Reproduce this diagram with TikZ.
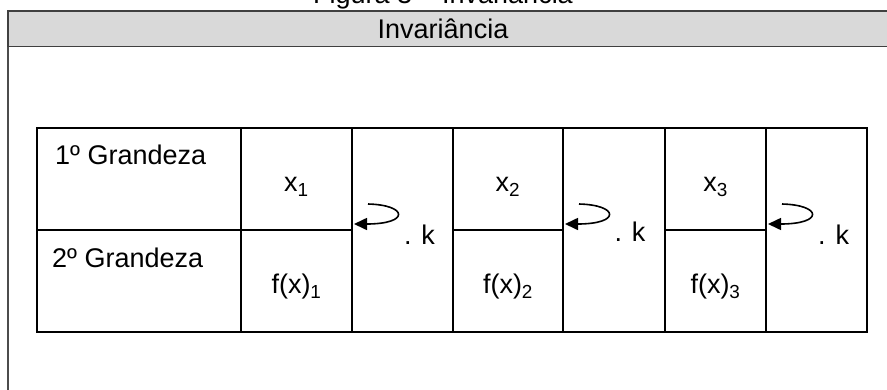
\documentclass[tikz,border=0pt]{standalone}
\usepackage{fontspec}
\setmainfont{Liberation Sans}
\usepackage{xcolor}
\usepackage{tikz}
\usetikzlibrary{arrows.meta, positioning}

\definecolor{headgray}{RGB}{217,217,217}

\begin{document}
\begin{tikzpicture}[
    x=1pt, y=-1pt,
    cell/.style={draw, line width=1.5pt, inner sep=0pt, outer sep=0pt, minimum height=102pt},
    kcell/.style={draw, line width=1.5pt, inner sep=0pt, outer sep=0pt, minimum width=101pt, minimum height=204pt},
    lbl/.style={inner sep=0pt, font=\fontsize{27}{32}\selectfont},
    turnarrow/.style={line width=1.6pt, -{Triangle[length=13pt,width=12pt]}}
  ]
    \useasboundingbox (0,0) rectangle (887,389);
    \clip (0,0) rectangle (887,389);

    % frame and header
    \node (title) [lbl] at (443,-4) {Figura 3 -- Invariância};
    \draw[line width=1.5pt, black!75, fill=headgray] (8,11) rectangle (900,46.5);
    \draw[line width=2pt, black!70] (8,46.5) -- (8,400);
    \node (head) [lbl] at (443,29) {Invariância};

    % table cells
    \node (g1) [cell, minimum width=204pt, anchor=north west] at (37,128) {};
    \node (g2) [cell, minimum width=204pt, below=0pt of g1] {};
    \node (x1) [cell, minimum width=111pt, right=0pt of g1] {};
    \node (f1) [cell, minimum width=111pt, below=0pt of x1] {};
    \node (k1) [kcell, anchor=north west] at (x1.north east) {};
    \node (x2) [cell, minimum width=110pt, anchor=north west] at (k1.north east) {};
    \node (f2) [cell, minimum width=110pt, below=0pt of x2] {};
    \node (k2) [kcell, minimum width=102pt, anchor=north west] at (x2.north east) {};
    \node (x3) [cell, minimum width=101pt, anchor=north west] at (k2.north east) {};
    \node (f3) [cell, minimum width=101pt, below=0pt of x3] {};
    \node (k3) [kcell, anchor=north west] at (x3.north east) {};

    % texts
    \node (t1) [lbl, anchor=base west] at ([shift={(18pt,-36pt)}]g1.north west) {1º Grandeza};
    \node (t2) [lbl, anchor=base west] at ([shift={(15pt,-37pt)}]g2.north west) {2º Grandeza};
    \node (vx1) [lbl] at ([yshift=-8pt]x1.center) {x\textsubscript{1}};
    \node (vx2) [lbl] at ([yshift=-8pt]x2.center) {x\textsubscript{2}};
    \node (vx3) [lbl] at ([yshift=-8pt]x3.center) {x\textsubscript{3}};
    \node (vf1) [lbl] at ([yshift=-6pt]f1.center) {f(x)\textsubscript{1}};
    \node (vf2) [lbl] at ([yshift=-6pt]f2.center) {f(x)\textsubscript{2}};
    \node (vf3) [lbl] at ([yshift=-6pt]f3.center) {f(x)\textsubscript{3}};
    \node (m1) [lbl] at ([shift={(17pt,-5pt)}]k1.center) {. k};
    \node (m2) [lbl] at ([shift={(16pt,-2pt)}]k2.center) {. k};
    \node (m3) [lbl] at ([shift={(17pt,-5pt)}]k3.center) {. k};

    % turning arrows
    \foreach \k in {1,2,3} {
      \coordinate (s\k) at ([shift={(16pt,26pt)}]k\k.west);
      \coordinate (e\k) at ([shift={(2pt,6pt)}]k\k.west);
      \draw[turnarrow] (s\k) .. controls ([shift={(40pt,-1pt)}]s\k) and ([shift={(56pt,0pt)}]e\k) .. (e\k);
    }
  \end{tikzpicture}
\end{document}
